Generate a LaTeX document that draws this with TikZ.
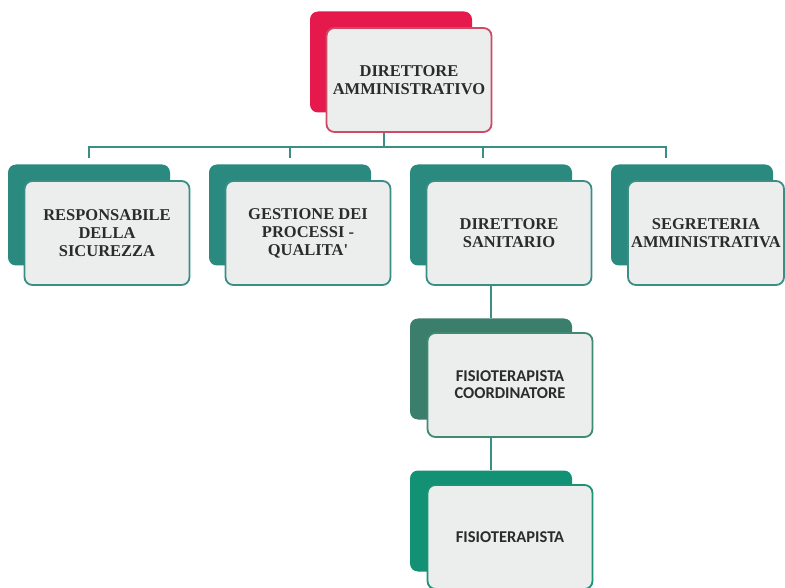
\documentclass[tikz,border=0pt]{standalone}
\usepackage{fontspec}
\setmainfont{Liberation Serif}
\newfontfamily\calibri{Carlito}
\definecolor{redback}{HTML}{E5194B}
\definecolor{redline}{HTML}{CF4A64}
\definecolor{tealback}{HTML}{2A8A7F}
\definecolor{tealline}{HTML}{3A8E86}
\definecolor{moss}{HTML}{3A7E6B}
\definecolor{mossline}{HTML}{3E8A72}
\definecolor{jade}{HTML}{139174}
\definecolor{jadeline}{HTML}{1A9474}
\definecolor{boxfill}{HTML}{ECEEEE}
\definecolor{textgray}{HTML}{2B2B2B}
\begin{document}
\begin{tikzpicture}[x=1pt,y=-1pt,
  back/.style={rounded corners=8pt,minimum width=162pt,minimum height=101pt,inner sep=0pt},
  front/.style={rounded corners=8pt,fill=boxfill,line width=1.8pt,minimum width=165pt,minimum height=104pt,
    inner sep=0pt,align=center,text=textgray,font=\bfseries\fontsize{16.5}{18}\selectfont},
  sans/.style={font=\calibri\bfseries\fontsize{16.5}{17}\selectfont},
  link/.style={draw=tealline,line width=2pt}]
  \useasboundingbox[fill=white] (0,0) rectangle (785,588);
  % back plates
  \node[back,fill=redback] at (391,62) (daBack) {};
  \node[back,fill=tealback] at (89,215) (rsBack) {};
  \node[back,fill=tealback] at (290,215) (gpBack) {};
  \node[back,fill=tealback] at (491,215) (dsBack) {};
  \node[back,fill=tealback] at (692,215) (saBack) {};
  \node[back,fill=moss] at (491,369) (fcBack) {};
  \node[back,fill=jade] at (491,521) (fiBack) {};
  % front cards
  \node[front,draw=redline] at ([shift={(18,18)}]daBack.center) (da) {DIRETTORE\\AMMINISTRATIVO};
  \node[front,draw=tealline] at ([shift={(18,18)}]rsBack.center) (rs) {RESPONSABILE\\DELLA\\SICUREZZA};
  \node[front,draw=tealline] at ([shift={(18,18)}]gpBack.center) (gp) {GESTIONE DEI\\PROCESSI -\\QUALITA\textquotesingle};
  \node[front,draw=tealline] at ([shift={(18,18)}]dsBack.center) (ds) {DIRETTORE\\SANITARIO};
  \node[front,draw=tealline,minimum width=156pt] at ([shift={(14,18)}]saBack.center) (sa) {SEGRETERIA\\AMMINISTRATIVA};
  \node[front,sans,draw=mossline] at ([shift={(19,16)}]fcBack.center) (fc) {FISIOTERAPISTA\\COORDINATORE};
  \node[front,sans,draw=jadeline] at ([shift={(19,16)}]fiBack.center) (fi) {FISIOTERAPISTA};
  % connectors
  \draw[link] ([xshift=-25pt]da.south) -- ++(0,14) -| ([yshift=6pt]rsBack.north);
  \draw[link] ([xshift=-25pt]da.south) -- ++(0,14) -| ([yshift=6pt]gpBack.north);
  \draw[link] ([xshift=-25pt]da.south) -- ++(0,14) -| ([xshift=-8pt,yshift=6pt]dsBack.north);
  \draw[link] ([xshift=-25pt]da.south) -- ++(0,14) -| ([xshift=-26pt,yshift=6pt]saBack.north);
  \draw[link] (ds.south -| fcBack.north) -- (fcBack.north);
  \draw[link] (fc.south -| fiBack.north) -- (fiBack.north);
\end{tikzpicture}
\end{document}
